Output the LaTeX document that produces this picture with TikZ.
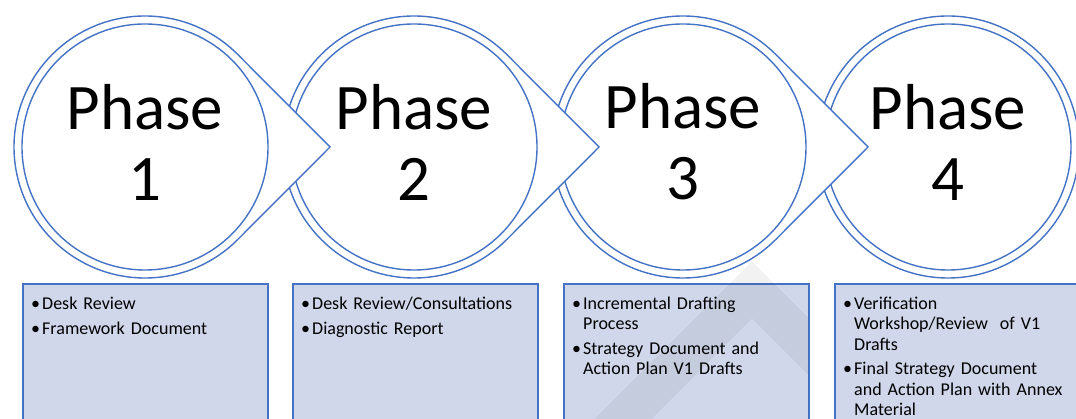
\documentclass[tikz,border=0pt]{standalone}
\usepackage{fontspec}
\setmainfont{Carlito}
\usetikzlibrary{positioning}
\definecolor{phaseblue}{RGB}{68,114,196}
\definecolor{tasklilac}{RGB}{208,215,234}
\newcommand{\taskitem}[1]{\par\hangindent=11pt\hangafter=1\noindent\makebox[11pt][l]{\textbullet}#1\par}

\begin{document}
\begin{tikzpicture}
[x=1pt, y=1pt,
 phaseshape/.style={draw=phaseblue, line width=1.4pt, fill=white},
 phaselabel/.style={font=\fontsize{65pt}{71pt}\selectfont, align=center, inner sep=0pt},
 taskbox/.style={draw=phaseblue, line width=1.8pt, fill=tasklilac, minimum width=245pt, minimum height=170pt, anchor=north west, inner sep=0pt},
 tasklist/.style={font=\fontsize{18pt}{20.4pt}\selectfont\setlength{\parskip}{4.3pt}\raggedright, text width=232pt, inner sep=0pt}]

\useasboundingbox (0,0) rectangle (1076,419);
\clip (0,0) rectangle (1076,419);

\coordinate (c1) at (145,272);
\coordinate (c2) at (414,272);
\coordinate (c3) at (683,272);
\coordinate (c4) at (948,272);

% last phase first, each arrow lies over the next circle
\draw[phaseshape] (c4) circle[radius=131];
\draw[phaseshape] (c4) circle[radius=123];
\node[phaselabel] (ph4) at ([yshift=5pt]c4) {Phase\\4};

\draw[phaseshape] ([xshift=185pt]c3) -- ([shift={(45:131)}]c3) arc[start angle=45, end angle=315, radius=131] -- cycle;
\draw[phaseshape] (c3) circle[radius=123];
\node[phaselabel] (ph3) at ([yshift=5pt]c3) {Phase\\3};

\draw[phaseshape] ([xshift=185pt]c2) -- ([shift={(45:131)}]c2) arc[start angle=45, end angle=315, radius=131] -- cycle;
\draw[phaseshape] (c2) circle[radius=123];
\node[phaselabel] (ph2) at ([yshift=5pt]c2) {Phase\\2};

\draw[phaseshape] ([xshift=185pt]c1) -- ([shift={(45:131)}]c1) arc[start angle=45, end angle=315, radius=131] -- cycle;
\draw[phaseshape] (c1) circle[radius=123];
\node[phaselabel] (ph1) at ([yshift=5pt]c1) {Phase\\1};

% task boxes
\node[taskbox] (task1) at (22,136) {};
\node[taskbox] (task2) at (292,136) {};
\node[taskbox] (task3) at (563,136) {};
\node[taskbox] (task4) at (834,136) {};

%watermark
\begin{scope}
\clip (560,0) rectangle (808,160);
\draw[line width=40pt, black, opacity=0.05] (582,-41) -- (752,129) -- (830,51);
\end{scope}

\node[tasklist, below right=1.5pt and 9pt of task1.north west] (list1)
  {\taskitem{Desk Review}\taskitem{Framework Document}};
\node[tasklist, below right=1.5pt and 9pt of task2.north west] (list2)
  {\taskitem{Desk Review/Consultations}\taskitem{Diagnostic Report}};
\node[tasklist, below right=1.5pt and 9pt of task3.north west] (list3)
  {\taskitem{Incremental Drafting\newline Process}\taskitem{Strategy Document and\newline Action Plan V1 Drafts}};
\node[tasklist, below right=1.5pt and 9pt of task4.north west] (list4)
  {\taskitem{Verification\newline Workshop/Review~~of V1\newline Drafts}\taskitem{Final Strategy Document\newline and Action Plan with Annex\newline Material}};
\end{tikzpicture}
\end{document}
